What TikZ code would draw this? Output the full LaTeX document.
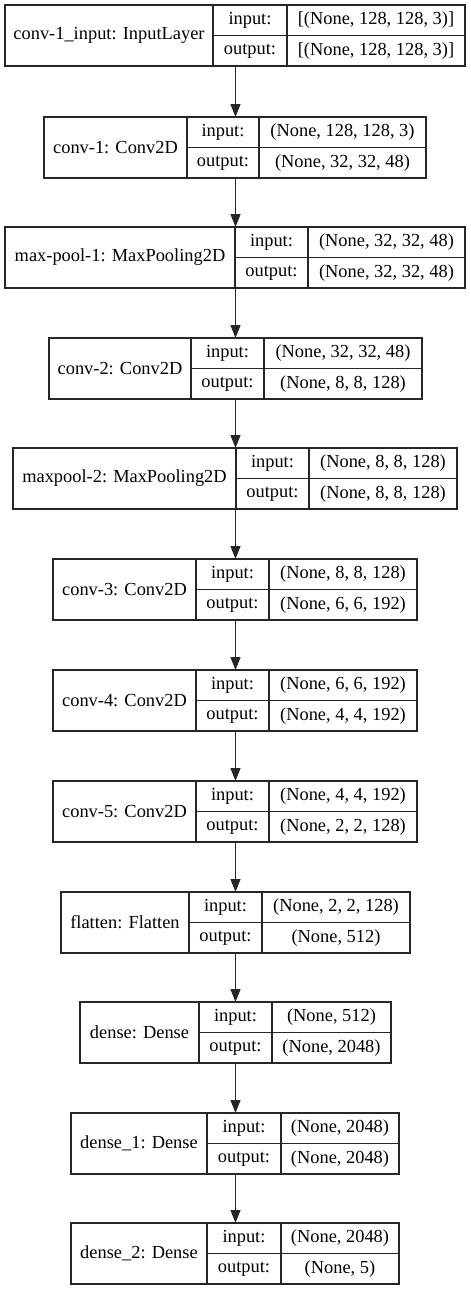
\documentclass[tikz,border=0pt]{standalone}
\usepackage{fontspec}
\setmainfont{Liberation Serif}
\usetikzlibrary{arrows.meta}
\tikzset{
  lw/.style={line width=1.2pt, draw=black!85},
  layerbox/.style={lw, rectangle, inner sep=0pt, outer sep=0pt, minimum height=61pt},
  txt/.style={inner sep=0pt, font=\fontsize{18.4}{22}\selectfont, text=black},
  arr/.style={lw, -{Triangle[length=13pt,width=10pt]}},
}
% #1 id, #2 left, #3 div1, #4 div2, #5 right, #6 top, #7 label, #8 input, #9 output
\newcommand\kerasLayer[9]{%
  \node[layerbox, minimum width={(#5-#2)*1pt}] (#1) at ({(#2+#5)/2},{#6+30.5}) {};
  \draw[lw] (#3,#6) -- (#3,#6+61);
  \draw[lw] (#4,#6) -- (#4,#6+61);
  \draw[lw] (#3,#6+30.5) -- (#5,#6+30.5);
  \node[txt] (#1-name) at ({(#2+#3)/2},{#6+30.5}) {#7};
  \node[txt] (#1-ik) at ({(#3+#4)/2},{#6+15.5}) {input:};
  \node[txt] (#1-ok) at ({(#3+#4)/2},{#6+46}) {output:};
  \node[txt] (#1-iv) at ({(#4+#5)/2},{#6+15.5}) {#8};
  \node[txt] (#1-ov) at ({(#4+#5)/2},{#6+46}) {#9};
}
\begin{document}
\begin{tikzpicture}[x=1pt,y=-1pt]
\useasboundingbox (0,0) rectangle (471,1291);
\coordinate (axis) at (235.5,0);
\kerasLayer{b1}{5}{213}{287}{465}{5}{conv-1\_input: InputLayer}{[(None, 128, 128, 3)]}{[(None, 128, 128, 3)]}
\kerasLayer{b2}{44}{187}{259}{426}{117}{conv-1: Conv2D}{(None, 128, 128, 3)}{(None, 32, 32, 48)}
\kerasLayer{b3}{5}{235}{308}{465}{227}{max-pool-1: MaxPooling2D}{(None, 32, 32, 48)}{(None, 32, 32, 48)}
\kerasLayer{b4}{49}{191}{264}{422}{338}{conv-2: Conv2D}{(None, 32, 32, 48)}{(None, 8, 8, 128)}
\kerasLayer{b5}{13}{236}{309}{457}{448}{maxpool-2: MaxPooling2D}{(None, 8, 8, 128)}{(None, 8, 8, 128)}
\kerasLayer{b6}{53}{196}{269}{417}{559}{conv-3: Conv2D}{(None, 8, 8, 128)}{(None, 6, 6, 192)}
\kerasLayer{b7}{53}{196}{269}{417}{670}{conv-4: Conv2D}{(None, 6, 6, 192)}{(None, 4, 4, 192)}
\kerasLayer{b8}{53}{196}{269}{417}{781}{conv-5: Conv2D}{(None, 4, 4, 192)}{(None, 2, 2, 128)}
\kerasLayer{b9}{61}{189}{262}{410}{892}{flatten: Flatten}{(None, 2, 2, 128)}{(None, 512)}
\kerasLayer{b10}{80}{199}{272}{391}{1002}{dense: Dense}{(None, 512)}{(None, 2048)}
\kerasLayer{b11}{71}{207}{281}{399}{1113}{dense\_1: Dense}{(None, 2048)}{(None, 2048)}
\kerasLayer{b12}{71}{207}{281}{399}{1223}{dense\_2: Dense}{(None, 2048)}{(None, 5)}
\foreach \a/\b in {b1/b2,b2/b3,b3/b4,b4/b5,b5/b6,b6/b7,b7/b8,b8/b9,b9/b10,b10/b11,b11/b12}
  \draw[arr] (axis |- \a.south) -- (axis |- \b.north);
\end{tikzpicture}
\end{document}
